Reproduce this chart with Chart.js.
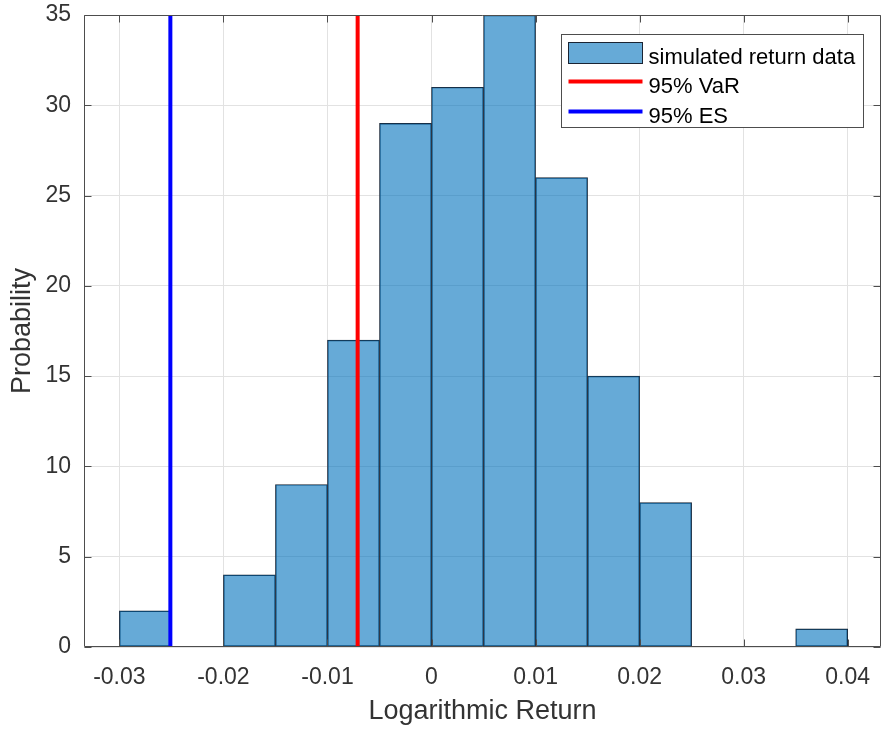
<!DOCTYPE html>
<html>
<head>
<meta charset="utf-8">
<script src="https://cdn.jsdelivr.net/npm/chart.js@4.4.1/dist/chart.umd.min.js"></script>
<style>
    html, body { margin: 0; padding: 0; background: #fff; }
</style>
</head>
<body>
<canvas id="hist" width="886" height="730"></canvas>
<script>
// Histogram of simulated returns: bin edges and counts per bin
const binEdges = [-0.03, -0.025, -0.02, -0.015, -0.01, -0.005, 0, 0.005, 0.01, 0.015, 0.02, 0.025, 0.03, 0.035, 0.04];
const binCounts = [2, 0, 4, 9, 17, 29, 31, 35, 26, 15, 8, 0, 0, 1];

// Risk levels (vertical lines)
const varLevel = -0.0071;
const esLevel = -0.0251;

// Axes
const xRange = [-0.0334, 0.0432];
const yRange = [0, 35];
const xTicks = [-0.03, -0.02, -0.01, 0, 0.01, 0.02, 0.03, 0.04];
const xTickLabels = ['-0.03', '-0.02', '-0.01', '0', '0.01', '0.02', '0.03', '0.04'];
const yTicks = [0, 5, 10, 15, 20, 25, 30, 35];

const seriesLabels = ['simulated return data', '95% VaR', '95% ES'];

const textColor = '#333333';
const axisColor = '#4d4d4d';
const gridColor = '#e2e2e2';

Chart.defaults.font.family = "'Liberation Sans', Arial, sans-serif";
Chart.defaults.color = textColor;

// Box around the axes with inward ticks (MATLAB style)
const framePlugin = {
    id: 'frame',
    afterDatasetsDraw(chart) {
        const { ctx, chartArea: a, scales } = chart;
        const L = Math.round(a.left) + 0.5, R = Math.round(a.right) - 0.5;
        const T = Math.round(a.top) + 0.5, B = Math.round(a.bottom) - 0.5;
        const len = 7;
        ctx.save();
        ctx.strokeStyle = axisColor;
        ctx.lineWidth = 1;
        ctx.beginPath();
        ctx.rect(L, T, R - L, B - T);
        xTicks.forEach(v => {
            const px = Math.round(scales.x.getPixelForValue(v)) + 0.5;
            ctx.moveTo(px, B); ctx.lineTo(px, B - len);
            ctx.moveTo(px, T); ctx.lineTo(px, T + len);
        });
        yTicks.forEach(v => {
            const py = Math.round(scales.y.getPixelForValue(v)) + 0.5;
            ctx.moveTo(L, py); ctx.lineTo(L + len, py);
            ctx.moveTo(R, py); ctx.lineTo(R - len, py);
        });
        ctx.stroke();
        ctx.restore();
    }
};

// Legend box in the top-right corner of the plot
const legendPlugin = {
    id: 'boxLegend',
    afterDraw(chart) {
        const { ctx, chartArea: a } = chart;
        const ds = chart.data.datasets;
        const w = 302, h = 93;
        const lx = Math.round(a.right - 18 - w) + 0.5;
        const ly = Math.round(a.top + 19) + 0.5;
        ctx.save();
        ctx.fillStyle = '#ffffff';
        ctx.fillRect(lx, ly, w, h);
        ctx.strokeStyle = axisColor;
        ctx.lineWidth = 1;
        ctx.strokeRect(lx, ly, w, h);

        const bars = ds.find(d => d.type === 'bar');
        ctx.fillStyle = bars.backgroundColor;
        ctx.fillRect(lx + 7, ly + 8, 74, 21);
        ctx.strokeStyle = bars.borderColor;
        ctx.strokeRect(lx + 7, ly + 8, 74, 21);

        const lines = ds.filter(d => d.type === 'line');
        [47, 77].forEach((dy, i) => {
            ctx.strokeStyle = lines[i].borderColor;
            ctx.lineWidth = 4;
            ctx.beginPath();
            ctx.moveTo(lx + 7, ly + dy);
            ctx.lineTo(lx + 81, ly + dy);
            ctx.stroke();
        });

        ctx.fillStyle = '#000000';
        ctx.font = "22px 'Liberation Sans', Arial, sans-serif";
        ctx.textBaseline = 'alphabetic';
        [29, 58.5, 88].forEach((dy, i) => {
            ctx.fillText(seriesLabels[i], lx + 87, ly + dy);
        });
        ctx.restore();
    }
};

const barData = binCounts.map((c, i) => ({ x: (binEdges[i] + binEdges[i + 1]) / 2, y: c }));

new Chart(document.getElementById('hist').getContext('2d'), {
    type: 'bar',
    data: {
        datasets: [
            {
                type: 'line',
                label: seriesLabels[1],
                data: [{ x: varLevel, y: yRange[0] }, { x: varLevel, y: yRange[1] }],
                borderColor: '#ff0000',
                borderWidth: 4,
                pointRadius: 0,
                order: 0
            },
            {
                type: 'line',
                label: seriesLabels[2],
                data: [{ x: esLevel, y: yRange[0] }, { x: esLevel, y: yRange[1] }],
                borderColor: '#0000ff',
                borderWidth: 4,
                pointRadius: 0,
                order: 0
            },
            {
                type: 'bar',
                label: seriesLabels[0],
                data: barData,
                backgroundColor: 'rgba(0, 114, 189, 0.6)',
                borderColor: '#1a2433',
                borderWidth: 0.8,
                borderSkipped: false,
                barPercentage: 1,
                categoryPercentage: 1,
                order: 1
            }
        ]
    },
    options: {
        responsive: false,
        animation: false,
        devicePixelRatio: 1,
        layout: { padding: { top: 15, right: 5, left: 0, bottom: 0 } },
        plugins: {
            legend: { display: false },
            tooltip: { enabled: false }
        },
        scales: {
            x: {
                type: 'linear',
                min: xRange[0],
                max: xRange[1],
                offset: false,
                afterBuildTicks: s => { s.ticks = xTicks.map(v => ({ value: v })); },
                afterFit: s => { s.height = 83; s.paddingLeft = 0; s.paddingRight = 0; },
                grid: { color: gridColor, drawTicks: false, offset: false },
                border: { display: false },
                ticks: {
                    padding: 17,
                    maxRotation: 0,
                    font: { size: 23 },
                    callback: (v, i) => xTickLabels[i]
                },
                title: {
                    display: true,
                    text: 'Logarithmic Return',
                    font: { size: 27 },
                    padding: { top: 0, bottom: 2 }
                }
            },
            y: {
                min: yRange[0],
                max: yRange[1],
                afterBuildTicks: s => { s.ticks = yTicks.map(v => ({ value: v })); },
                afterFit: s => { s.width = 84; s.paddingTop = 0; s.paddingBottom = 0; },
                grid: { color: gridColor, drawTicks: false },
                border: { display: false },
                ticks: {
                    padding: 13,
                    font: { size: 23 }
                },
                title: {
                    display: true,
                    text: 'Probability',
                    font: { size: 27 },
                    padding: { top: 6, bottom: 0 }
                }
            }
        }
    },
    plugins: [framePlugin, legendPlugin]
});
</script>
</body>
</html>
